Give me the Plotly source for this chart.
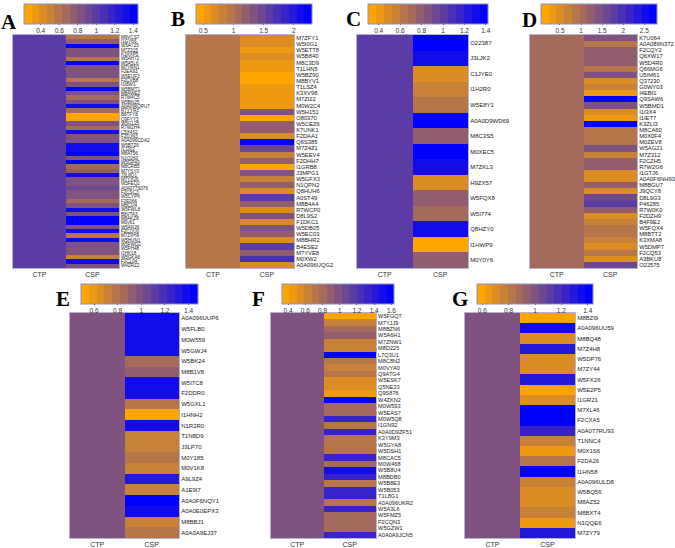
import plotly.graph_objects as go

W, H = 675, 548

# ---- data ----
a_labels = ["M9VCS7", "I1GY66", "W5AY25", "M7Z315", "K3XXP5", "W5AH72", "W5A5L6", "M7YRN1",
            "F2EA93", "W5EUF3", "F2CVB8", "I1I8W1", "W5BMT1", "M8AWE2", "R7W4C5", "W5BN25",
            "A0A096QPU7", "R7YYR3", "B8TFY8", "Q9FYY3", "W5G125", "R7W2H4", "C5X4S1", "F2DJN3",
            "A0A096CDA2", "W5B7Z6", "I1J202", "M8AT56", "N1Q260", "W5GP43", "M8CRB5", "M7YSY0",
            "J3L8Q1", "M7YX26", "W5FEQ2", "A0A077S076", "F2CSC3", "W5CYP6", "F2E066", "M8C1I4",
            "W5FWL8", "B8VTA3", "M8AKZ8", "M0y61", "W5AN26", "F2CQU0", "M7ZVH9", "W5HUN1",
            "W5FWD2", "W5FH48", "I1HK18", "W5GKA6", "F2CL04", "W4ZRZ2"]
a_csp = [0.6, 0.75, 1.4, 0.8, 0.8, 0.6, 1.4, 0.8, 0.8, 0.85, 0.6, 0.8, 1.4, 0.8, 0.7, 0.8,
         1.3, 0.65, 0.3, 0.3, 0.8, 0.65, 1.35, 0.8, 0.8, 1.35, 1.3, 1.4, 0.8, 1.45, 0.7, 0.75,
         1.35, 0.8, 0.8, 0.9, 0.8, 0.8, 0.7, 0.8, 1.3, 0.8, 1.4, 1.4, 0.8, 1.35, 0.55, 1.35,
         0.8, 0.8, 0.8, 0.5, 1.35, 0.8]

b_labels = ["M7ZFY1", "W5I0G1", "W5ETT8", "W5B840", "M8C3D9", "T1LHN5", "W5BZ90", "M8BYV1",
            "T1LSZ4", "K3XV98", "M7ZI22", "M0W2C4", "W5H151", "O80370", "W5CEZ6", "K7UNK1",
            "F2DAA1", "Q6S385", "M7Z4Z1", "W5EEV4", "F2DHH7", "I1GRB8", "J3MPG1", "W5GFX3",
            "N1QPN2", "Q8HUH6", "A0ST49", "M8B4A4", "R7WCP0", "D8L9S2", "F1DKC1", "W5DB05",
            "W5EC03", "M8BHR2", "B4ESE2", "M7YVE8", "M0XW2", "A0A096UQG2"]
b_csp = [0.75, 0.65, 0.55, 0.65, 0.6, 0.6, 0.45, 0.45, 0.6, 0.6, 0.6, 0.6, 1.3, 0.45, 1.2, 1.2,
         0.75, 2.3, 1.5, 0.8, 1.2, 0.45, 1.4, 0.8, 1.25, 0.75, 1.55, 1.25, 0.75, 1.4, 0.75, 1.4,
         1.25, 0.75, 1.6, 1.25, 1.75, 0.7]

c_labels = ["O22387", "J3LJK2", "C1JYE0", "I1H2R0", "W5E8Y1", "A0A0D9WD69", "M8C3S5", "M0XEC5",
            "M7ZKL3", "H9ZX57", "W5FQX8", "W5I774", "Q8HZY0", "I1HWP9", "M0Y0Y6"]
c_csp = [1.4, 1.3, 0.45, 0.55, 0.65, 1.4, 0.75, 1.4, 1.3, 0.45, 0.75, 0.7, 1.3, 0.35, 0.75]

d_labels = ["K7U064", "A0A089N372", "F2CQY2", "Q6XW17", "W5D4R0", "Q66MG6", "U5IM61", "Q37230",
            "G0WY03", "I4EBI1", "Q9SAW6", "W5BMD1", "I1I3X4", "I1IET7", "K3ZLI3", "M8CA60",
            "M0X0F4", "M0ZEV8", "W5AG21", "M7Z312", "F2CZH5", "R7W2G6", "I1GTJ6", "A0A0F6NH93",
            "M8BGU7", "J9QCY8", "D8L9G3", "P46285", "R7W0K0", "F2DZH9", "B4F9E2", "W5FQX4",
            "M8BTT2", "K3XMA8", "W5DMP7", "F2CQ53", "A3BKU8", "O22575"]
d_csp = [1.5, 0.8, 1.3, 1.3, 1.3, 0.8, 1.5, 0.6, 0.75, 0.3, 2.7, 1.5, 0.6, 0.3, 2.7, 0.9,
         0.9, 0.9, 1.4, 0.75, 1.3, 1.3, 0.45, 0.6, 1.2, 0.5, 1.6, 1.8, 1.3, 0.6, 0.75, 0.9,
         0.9, 0.7, 0.6, 0.85, 0.6, 1.6]

e_labels = ["A0A096UUP6", "W5FLB0", "M0W559", "W5GWJ4", "W5BK24", "M8B1V8", "W5I7C8", "F2DDR0",
            "W5GXL1", "I1HNH2", "N1R2R0", "T1N8D9", "J3LP70", "M0Y185", "M0V1K8", "A9L9Z4",
            "A1E9I7", "A0A0F6NQY1", "A0A0E0EPX3", "M8BBJ1", "A0A0A9EJ37"]
e_csp = [1.35, 1.4, 1.35, 1.4, 0.85, 0.9, 1.4, 1.4, 0.8, 0.5, 1.4, 0.75, 0.7, 0.8, 0.7, 1.3,
         0.72, 1.48, 1.35, 0.72, 0.8]

f_labels = ["W5FGQ7", "M7YJJ9", "M8BZN6", "W5A6H1", "M7ZNW1", "M8D225", "L7Q3U1", "M8C8N2",
            "M0VYA0", "Q9ATG4", "W5ESK7", "Q5NE33", "Q9S876", "W4ZKN2", "M0W593", "W5EAS7",
            "M0W5Q8", "I1GN92", "A0A0D9ZF51", "K3Y9M3", "W5GYA8", "W5DSH1", "M8CAC5", "M0W468",
            "W5B8U4", "M8BDB0", "W5B8E3", "W5B053", "T1L8G1", "A0A096UKR2", "W5A3L6", "W5FMZ5",
            "F2CQN3", "W5GZW1", "A0A0A9JCN5"]
f_csp = [0.4, 0.6, 0.8, 0.85, 0.65, 0.6, 1.55, 0.75, 0.6, 0.75, 0.55, 0.55, 0.45, 1.6, 0.8, 0.8,
         1.3, 0.75, 1.3, 0.75, 0.75, 0.75, 1.3, 0.8, 1.5, 1.3, 0.7, 1.3, 1.3, 0.75, 1.3, 0.8,
         0.8, 0.8, 1.3]

g_labels = ["M8BZI9", "A0A096UU59", "M8BQ48", "M7Z4H8", "W5DP76", "M7ZY44", "W5FX26", "W5E2P5",
            "I1GR21", "M7XL46", "F2CXA5", "A0A077RU93", "T1NNC4", "M0X1S6", "F2DA26", "I1HN58",
            "A0A096ULD8", "W5BQ56", "M8AZ52", "M8BXT4", "N1QQE6", "M7ZY79"]
g_csp = [0.58, 1.35, 0.7, 1.3, 0.68, 0.68, 1.32, 0.58, 0.7, 1.42, 1.42, 1.25, 0.75, 0.62, 0.8,
         1.42, 0.75, 0.68, 0.68, 0.75, 0.65, 1.3]

samples = ["CTP", "CSP"]
ctp_value = 1

# ---- stepped orange -> blue scale ----
n_steps = 15
lo, hi = (255, 165, 0), (0, 0, 255)
colorscale = []
for i in range(n_steps):
    t = i / (n_steps - 1)
    c = "rgb(%d,%d,%d)" % tuple(round(a + (b - a) * t) for a, b in zip(lo, hi))
    colorscale.append([i / n_steps, c])
    colorscale.append([(i + 1) / n_steps, c])

# panel geometry in pixels: heatmap box, colorbar box, letter position
panels = [
    dict(name="A", labels=a_labels, csp=a_csp, zmin=0.22, zmax=1.45, dtick=0.2,
         hm=(13, 119, 35, 268), cb=(24, 138, 4), letter=(9, 22), fs=4.6),
    dict(name="B", labels=b_labels, csp=b_csp, zmin=0.38, zmax=2.3, dtick=0.5,
         hm=(186, 294, 35, 268), cb=(196, 312, 4), letter=(178, 19), fs=5.8),
    dict(name="C", labels=c_labels, csp=c_csp, zmin=0.3, zmax=1.42, dtick=0.2,
         hm=(357, 468, 35, 268), cb=(368, 488, 4), letter=(353, 19), fs=6),
    dict(name="D", labels=d_labels, csp=d_csp, zmin=0.05, zmax=2.8, dtick=0.5,
         hm=(530, 637, 35, 268), cb=(541, 657, 4), letter=(529, 20), fs=5.8),
    dict(name="E", labels=e_labels, csp=e_csp, zmin=0.49, zmax=1.48, dtick=0.2,
         hm=(70, 179, 313, 538), cb=(81, 198, 284), letter=(63, 299), fs=6),
    dict(name="F", labels=f_labels, csp=f_csp, zmin=0.33, zmax=1.63, dtick=0.2,
         hm=(271, 376, 313, 538), cb=(282, 394, 284), letter=(258, 299), fs=5.6),
    dict(name="G", labels=g_labels, csp=g_csp, zmin=0.56, zmax=1.44, dtick=0.2,
         hm=(465, 575, 313, 538), cb=(477, 593, 284), letter=(460, 299), fs=6),
]

fig = go.Figure()
annotations = []
layout_axes = {}

for i, p in enumerate(panels, start=1):
    x0, x1, y0, y1 = p["hm"]
    cx0, cx1, cy0 = p["cb"]
    z = [[ctp_value, v] for v in p["csp"]]
    fig.add_trace(go.Heatmap(
        z=z, x=samples, y=p["labels"],
        xaxis="x%d" % i, yaxis="y%d" % i,
        colorscale=colorscale, zmin=p["zmin"], zmax=p["zmax"],
        colorbar=dict(
            orientation="h", x=cx0 / W, xanchor="left", y=1 - cy0 / H, yanchor="top",
            len=cx1 - cx0, lenmode="pixels", thickness=20, xpad=0, ypad=0,
            outlinecolor="#8f8fc8", outlinewidth=1,
            tickmode="linear", dtick=p["dtick"], ticks="outside", ticklen=1,
            tickcolor="#555", tickfont=dict(size=6.5, color="#333", family="Liberation Sans"),
        ),
        showscale=True,
    ))
    layout_axes["xaxis%d" % i] = dict(
        domain=[x0 / W, x1 / W], anchor="y%d" % i, showgrid=False, zeroline=False,
        tickfont=dict(size=7, color="#333", family="Liberation Sans"),
        ticks="", showline=True, linecolor="#b4b4d2", linewidth=1, mirror=True,
        automargin=False,
    )
    layout_axes["yaxis%d" % i] = dict(
        domain=[1 - y1 / H, 1 - y0 / H], anchor="x%d" % i, side="right",
        autorange="reversed", showgrid=False, zeroline=False,
        tickmode="array", tickvals=p["labels"], ticktext=p["labels"],
        tickfont=dict(size=p["fs"], color="#222", family="Liberation Sans"),
        ticks="", showline=True, linecolor="#b4b4d2", linewidth=1, mirror=True,
        automargin=False,
    )
    lx, ly = p["letter"]
    annotations.append(dict(
        x=lx / W, y=1 - ly / H, xref="paper", yref="paper", text="<b>%s</b>" % p["name"],
        showarrow=False, font=dict(size=21, family="Liberation Serif", color="black"),
        xanchor="center", yanchor="middle",
    ))

fig.update_layout(
    width=W, height=H,
    margin=dict(l=0, r=0, t=0, b=0),
    paper_bgcolor="white", plot_bgcolor="white",
    annotations=annotations,
    **layout_axes,
)

# the page body has a default 8px margin; drop it so the figure sits at the window's corner
fig.write_html("out.html", config={"displayModeBar": False},
               post_script="document.body.style.margin='0';")
